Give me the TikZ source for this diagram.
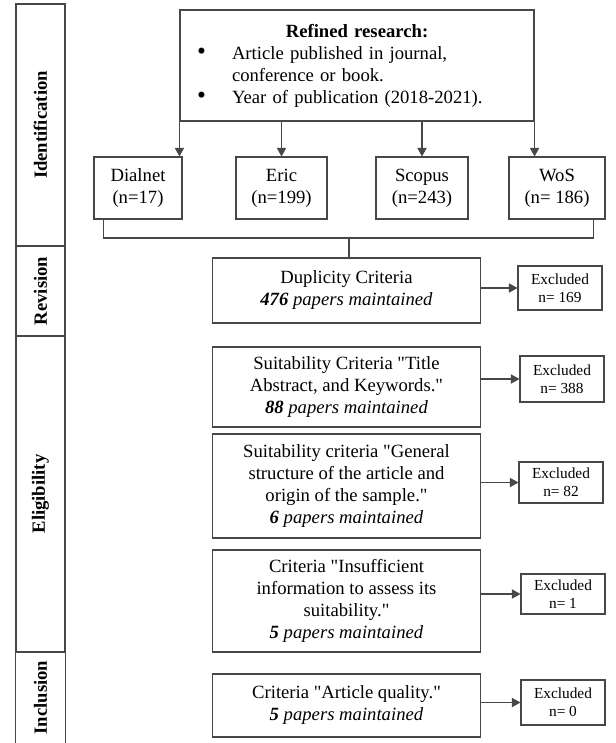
\documentclass[tikz,border=0pt]{standalone}
\usepackage{fontspec}
\setmainfont{Liberation Serif}[Ligatures=TeXOff]
\usetikzlibrary{arrows.meta}
\newcommand{\bul}{\makebox[26.25pt][l]{\fontsize{19}{16.5}\selectfont\textbullet}}

\begin{document}
\begin{tikzpicture}[x=0.75pt,y=0.75pt,yscale=-1,xscale=1,
  line/.style={draw=black!72, line width=0.8pt},
  arr/.style={line, -{Triangle[length=6.5pt,width=7pt]}},
  sidebox/.style={line, minimum width=36.75pt, inner sep=0pt, font=\bfseries\fontsize{14}{16}\selectfont},
  dbbox/.style={line, minimum height=46.5pt, align=center, inner sep=1pt, font=\fontsize{14}{16.5}\selectfont},
  stagebox/.style={line, minimum width=201pt, align=center, inner sep=2pt, font=\fontsize{14}{16.5}\selectfont},
  exbox/.style={line, minimum width=63pt, align=center, inner sep=1pt, font=\fontsize{11.5}{13.5}\selectfont}]
\useasboundingbox (0,0) rectangle (616,743);

%Side column
\node [sidebox, minimum height=181.5pt] (ident) at (40.5,125) {\rotatebox{90}{Identification}};
\node [sidebox, minimum height=67.5pt] (revis) at (40.5,291) {\rotatebox{90}{Revision}};
\node [sidebox, minimum height=237pt] (eligi) at (40.5,494) {\rotatebox{90}{Eligibility}};
\node [sidebox, draw=none, minimum height=68.25pt] (inclu) at (40.5,697.5) {\rotatebox{90}{Inclusion}};
\draw [line] (inclu.north west) -- (inclu.south west) ;
\draw [line] (inclu.north east) -- (inclu.south east) ;

%Refined research box
\node [line, minimum width=265.5pt, minimum height=83.25pt, text width=240pt, inner xsep=12.75pt, font=\fontsize{14}{16.5}\selectfont] (refined) at (357,65.5)
  {\centering\textbf{Refined research:}\par\raggedright
   \bul Article published in journal,\\
   \hspace*{26.25pt}conference or book.\\
   \bul Year of publication (2018-2021).};

%Databases
\node [dbbox, minimum width=66pt] (dialnet) at (138,188) {Dialnet\\(n=17)};
\node [dbbox, minimum width=68.25pt] (eric) at (281.5,188) {Eric\\(n=199)};
\node [dbbox, minimum width=69pt] (scopus) at (422,188) {Scopus\\(n=243)};
\node [dbbox, minimum width=72pt] (wos) at (557,188) {WoS\\(n= 186)};

\draw [arr] (refined.south west) -- (refined.south west |- dialnet.north) ;
\draw [arr] (refined.south -| eric.north) -- (eric.north) ;
\draw [arr] (refined.south -| scopus.north) -- (scopus.north) ;
\draw [arr] (refined.south east) -- (refined.south east |- wos.north) ;

%Criteria boxes
\node [stagebox, minimum height=48.75pt] (dup) at (346.5,290.5) {Duplicity Criteria\\\textbf{\textit{476}} \textit{papers maintained}};
\node [stagebox, minimum height=60pt] (suit) at (346.5,387) {Suitability Criteria "Title\\Abstract, and Keywords."\\\textbf{\textit{88}} \textit{papers maintained}};
\node [stagebox, minimum height=78pt] (struct) at (346.5,486) {Suitability criteria "General\\structure of the article and\\origin of the sample."\\\textbf{\textit{6}} \textit{papers maintained}};
\node [stagebox, minimum height=76.5pt] (insuf) at (346.5,601) {Criteria "Insufficient\\information to assess its\\suitability."\\\textbf{\textit{5}} \textit{papers maintained}};
\node [stagebox, minimum height=47.25pt] (quality) at (346.5,705.5) {Criteria "Article quality."\\\textbf{\textit{5}} \textit{papers maintained}};

%Merge line
\coordinate (join) at (349,238);
\draw [line] ([xshift=7.5pt]dialnet.south west) |- ([xshift=-9pt]wos.south east |- join) -- ([xshift=-9pt]wos.south east) ;
\draw [line] (join) -- (join |- dup.north) ;

%Excluded boxes
\node [exbox, minimum height=33pt] (ex1) at (560,288) {Excluded\\n= 169};
\node [exbox, minimum height=34.5pt] (ex2) at (562,379) {Excluded\\n= 388};
\node [exbox, minimum height=30.75pt] (ex3) at (561,482.5) {Excluded\\n= 82};
\node [exbox, minimum height=30pt] (ex4) at (563,594) {Excluded\\n= 1};
\node [exbox, minimum height=33.75pt] (ex5) at (563,702.5) {Excluded\\n= 0};

\foreach \a/\b in {dup/ex1, suit/ex2, struct/ex3, insuf/ex4, quality/ex5}
  \draw [arr] (\b.west -| \a.east) -- (\b.west) ;

\end{tikzpicture}
\end{document}
